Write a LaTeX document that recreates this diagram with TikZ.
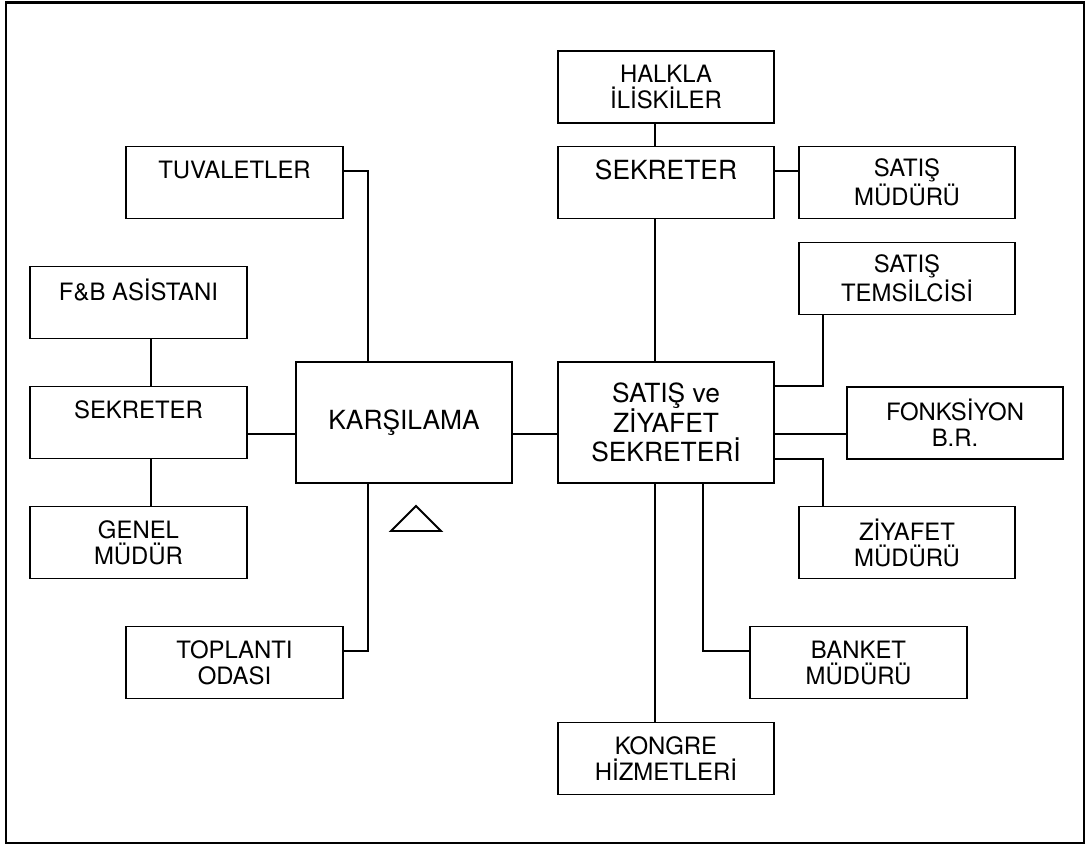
\documentclass[tikz,border=0pt]{standalone}
\usepackage{fontspec}
\setmainfont{TeX Gyre Heros}
\usepackage{tikz}
\usetikzlibrary{calc}
\newcommand{\framethickness}{1.4pt}
\newcommand{\boxthickness}{1.1pt}
\newcommand{\wirethickness}{0.75pt}
\tikzset{
office/.style={draw, line width=\boxthickness, minimum width=4.33cm, minimum height=1.44cm, inner sep=0pt, outer sep=0pt, align=center, font=\fontsize{13.6}{14.8}\selectfont},
bigoffice/.style={office, minimum height=2.42cm, font=\fontsize{15}{17}\selectfont},
wire/.style={line width=\wirethickness}
}
\begin{document}
\begin{tikzpicture}[x=0.02cm, y=-0.02cm]
\useasboundingbox (0,0) rectangle (1086,846);
\draw[line width = \framethickness] (6,2.5) rectangle (1084,843);
\node[office] (1) at (666, 87.0) {HALKLA\\İLİSKİLER};
\node[office, font=\fontsize{15}{14.8}\selectfont] (2) at (666, 182.5) {SEKRETER\\\phantom{X}};
\node[office] (3) at (907, 182.5) {SATIŞ\\MÜDÜRÜ};
\node[office] (4) at (234.5, 182.5) {TUVALETLER\\\phantom{X}};
\node[office] (5) at (907, 278.5) {SATIŞ\\TEMSİLCİSİ};
\node[office] (6) at (138.5, 302.5) {F\&B ASİSTANI\\\phantom{X}};
\node[office] (7) at (138.5, 422.5) {SEKRETER\\\phantom{X}};
\node[bigoffice] (8) at (404, 422.5) {KARŞILAMA};
\node[bigoffice] (9) at (666, 422.5) {SATIŞ ve\\ZİYAFET\\SEKRETERİ};
\node[office] (10) at (955, 423.0) {FONKSİYON\\B.R.};
\node[office] (11) at (138.5, 542.5) {GENEL\\MÜDÜR};
\node[office] (12) at (907, 542.5) {ZİYAFET\\MÜDÜRÜ};
\node[office] (13) at (234.5, 662.5) {TOPLANTI\\ODASI};
\node[office] (14) at (858.5, 662.5) {BANKET\\MÜDÜRÜ};
\node[office] (15) at (666, 758.5) {KONGRE\\HİZMETLERİ};
%vertical trunks
\coordinate (v1) at (655, 0);
\coordinate (v2) at (151, 0);
\draw[wire] (1.south -| v1) -- (2.north -| v1);
\draw[wire] (2.south -| v1) -- (9.north -| v1);
\draw[wire] (9.south -| v1) -- (15.north -| v1);
\draw[wire] (6.south -| v2) -- (7.north -| v2);
\draw[wire] (7.south -| v2) -- (11.north -| v2);
%horizontal links
\coordinate (h1) at (0, 171);
\coordinate (h2) at (0, 434);
\draw[wire] (2.east |- h1) -- (3.west |- h1);
\draw[wire] (7.east |- h2) -- (8.west |- h2);
\draw[wire] (8.east |- h2) -- (9.west |- h2);
\draw[wire] (9.east |- h2) -- (10.west |- h2);
%elbows
\coordinate (k1) at (368, 171);
\coordinate (k2) at (368, 651);
\coordinate (s1) at (823, 386);
\coordinate (s2) at (823, 459);
\coordinate (s3) at (703, 651);
\draw[wire] (4.east |- k1) -- (k1) -- (8.north -| k1);
\draw[wire] (13.east |- k2) -- (k2) -- (8.south -| k2);
\draw[wire] (5.south -| s1) -- (s1) -- (9.east |- s1);
\draw[wire] (9.east |- s2) -- (s2) -- (12.north -| s2);
\draw[wire] (9.south -| s3) -- (s3) -- (14.west |- s3);
%triangle
\draw[line width = \boxthickness] (391, 531) -- (416, 506) -- (441, 531) -- cycle;
\end{tikzpicture}
\end{document}
